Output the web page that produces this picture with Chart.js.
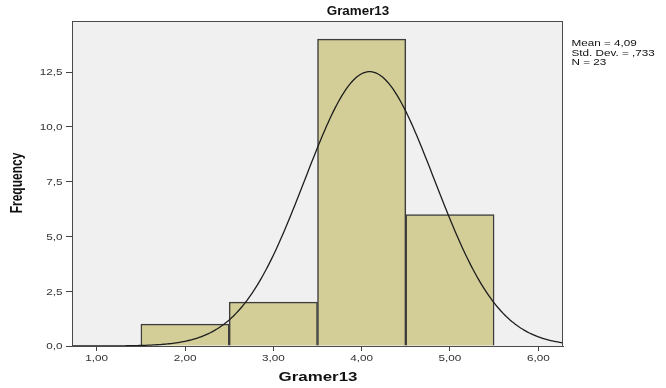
<!DOCTYPE html>
<html>
<head>
<meta charset="utf-8">
<script src="https://cdn.jsdelivr.net/npm/chart.js@4.4.1/dist/chart.umd.min.js"></script>
<style>
  html, body { margin: 0; padding: 0; background: #ffffff; }
  canvas { display: block; }
</style>
</head>
<body>
<canvas id="histo" width="666" height="388"></canvas>
<script>
// bin centres and counts of Gramer13
var binCenters = [2, 3, 4, 5];
var binCounts = [1, 2, 14, 6];

// summary statistics shown next to the plot
var statMean = 4.09;
var statStd = 0.733;
var statN = 23;
var binWidth = 1;

var xTickValues = [1, 2, 3, 4, 5, 6];
var yTickValues = [0, 2.5, 5, 7.5, 10, 12.5];

var xMin = 0.72, xMax = 6.28;
var yMax = 14.83;

// text is drawn a bit wider than normal, like the SPSS export
var STRETCH = 1.3;
var FONT = '"Liberation Sans", Arial, sans-serif';

// normal curve scaled to the histogram (N * width * density)
var curve = [];
for (var x = xMin; x <= xMax + 1e-9; x += 0.02) {
    var z = (x - statMean) / statStd;
    var d = Math.exp(-0.5 * z * z) / (statStd * Math.sqrt(2 * Math.PI));
    curve.push({x: x, y: statN * binWidth * d});
}

var barPoints = binCenters.map(function (c, i) { return {x: c, y: binCounts[i]}; });

function comma(v, digits) {
    return v.toFixed(digits).replace('.', ',');
}

// draw a string stretched horizontally, anchored at (x, y)
function wideText(ctx, str, x, y, align, stretch) {
    ctx.save();
    ctx.translate(x, y);
    ctx.scale(stretch || STRETCH, 1);
    ctx.textAlign = align;
    ctx.textBaseline = 'alphabetic';
    ctx.fillText(str, 0, 0);
    ctx.restore();
}

// grey plot background + frame, tick labels, titles and stats box
var decor = {
    id: 'decor',
    beforeDatasetsDraw: function (chart) {
        var a = chart.chartArea, ctx = chart.ctx;
        ctx.save();
        ctx.fillStyle = '#f0f0f0';
        ctx.fillRect(a.left, a.top, a.right - a.left, a.bottom - a.top);
        ctx.restore();
    },
    afterDraw: function (chart) {
        var a = chart.chartArea, ctx = chart.ctx;
        var xs = chart.scales.x, ys = chart.scales.y;
        ctx.save();
        ctx.strokeStyle = '#4a4a4a';
        ctx.lineWidth = 1;
        ctx.strokeRect(a.left + 0.5, a.top + 0.5, a.right - a.left - 1, a.bottom - a.top);

        // tick labels
        ctx.fillStyle = '#333';
        ctx.font = '9px ' + FONT;
        xTickValues.forEach(function (v) {
            wideText(ctx, comma(v, 2), xs.getPixelForValue(v), a.bottom + 14.5, 'center');
        });
        yTickValues.forEach(function (v) {
            wideText(ctx, comma(v, 1), a.left - 9.5, ys.getPixelForValue(v) + 3.3, 'right');
        });

        // titles
        ctx.fillStyle = '#111';
        ctx.font = 'bold 13px ' + FONT;
        wideText(ctx, 'Gramer13', 358, 15, 'center', 1.03);
        wideText(ctx, 'Gramer13', 318, 381, 'center');

        ctx.save();
        ctx.translate(22, 183);
        ctx.scale(STRETCH, 1);
        ctx.rotate(-Math.PI / 2);
        ctx.font = 'bold 12px ' + FONT;
        ctx.textAlign = 'center';
        ctx.textBaseline = 'alphabetic';
        ctx.fillText('Frequency', 0, 0);
        ctx.restore();

        // stats box
        ctx.font = '9px ' + FONT;
        wideText(ctx, 'Mean = ' + comma(statMean, 2), 571.5, 46, 'left');
        wideText(ctx, 'Std. Dev. = ' + comma(statStd, 3).replace(/^0/, ''), 571.5, 55.5, 'left');
        wideText(ctx, 'N = ' + statN, 571.5, 64.5, 'left');
        ctx.restore();
    }
};

new Chart(document.getElementById('histo'), {
    type: 'bar',
    data: {
        datasets: [{
            type: 'line',
            data: curve,
            borderColor: '#1e1e1e',
            borderWidth: 1.3,
            pointRadius: 0,
            tension: 0,
            order: 0
        }, {
            type: 'bar',
            data: barPoints,
            backgroundColor: '#d3ce98',
            borderColor: '#3d3d3d',
            borderWidth: 1.5,
            barPercentage: 1,
            categoryPercentage: 1,
            order: 1
        }]
    },
    options: {
        responsive: false,
        devicePixelRatio: 1,
        animation: false,
        layout: {padding: {left: 0, right: 103, top: 21, bottom: 0}},
        plugins: {legend: {display: false}, tooltip: {enabled: false}},
        scales: {
            x: {
                type: 'linear',
                min: xMin,
                max: xMax,
                offset: false,
                afterBuildTicks: function (scale) {
                    scale.ticks = xTickValues.map(function (v) { return {value: v}; });
                },
                afterFit: function (scale) { scale.height = 42; },
                ticks: {display: false},
                grid: {offset: false, drawOnChartArea: false, drawTicks: true, tickLength: 5, color: '#444'},
                border: {display: true, color: '#444'}
            },
            y: {
                min: 0,
                max: yMax,
                afterBuildTicks: function (scale) {
                    scale.ticks = yTickValues.map(function (v) { return {value: v}; });
                },
                afterFit: function (scale) { scale.width = 72; },
                ticks: {display: false},
                grid: {drawOnChartArea: false, drawTicks: true, tickLength: 6, color: '#444'},
                border: {display: true, color: '#444'}
            }
        }
    },
    plugins: [decor]
});
</script>
</body>
</html>
